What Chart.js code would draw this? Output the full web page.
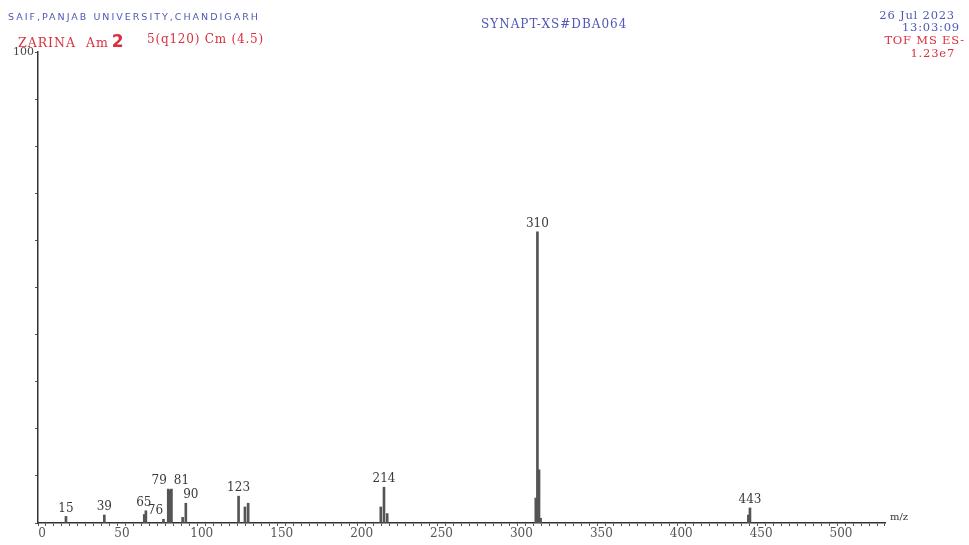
<!DOCTYPE html>
<html>
<head>
<meta charset="utf-8">
<script src="https://cdn.jsdelivr.net/npm/chart.js@4.4.0/dist/chart.umd.min.js"></script>
<style>
    * { margin: 0; padding: 0; }
    body { background: #fff; width: 969px; height: 545px; overflow: hidden; position: relative; }
    #wrap { position: absolute; left: 0; top: 0; width: 969px; height: 545px; }
    .hd { position: absolute; white-space: nowrap; font-family: "DejaVu Serif", serif; font-size: 11.5px; letter-spacing: 0.8px; }
    .blue { color: #4f58b8; }
    .red { color: #d9303f; }
</style>
</head>
<body>
<div id="wrap"><canvas id="ms"></canvas></div>

<div class="hd blue" style="left:8px; top:11px; font-family:'DejaVu Sans',sans-serif; font-size:9.5px; letter-spacing:2px;">SAIF,PANJAB UNIVERSITY,CHANDIGARH</div>
<div class="hd red" style="left:18px; top:31px; font-size:12.5px; letter-spacing:1px;">ZARINA&nbsp; Am<b style="font-family:'DejaVu Sans',sans-serif; font-size:17px; margin-left:3px;">2</b></div>
<div class="hd red" style="left:147px; top:32px; font-size:12px;">5(q120) Cm (4.5)</div>
<div class="hd blue" style="left:481px; top:17px; font-size:12px; letter-spacing:1px;">SYNAPT-XS#DBA064</div>
<div class="hd blue" style="right:14px; top:8px; text-align:right;">26 Jul 2023</div>
<div class="hd blue" style="right:9px; top:20px; text-align:right;">13:03:09</div>
<div class="hd red" style="right:4px; top:33px; text-align:right;">TOF MS ES-</div>
<div class="hd red" style="right:14px; top:46px; text-align:right;">1.23e7</div>

<script>
// peaks (m/z, relative intensity %)
const mz = [15, 39, 64, 65, 76, 79, 80, 81, 88, 90, 123, 127, 129, 212, 214, 216, 309, 310, 311, 312, 442, 443];
const intensity = [1.4, 1.7, 1.8, 2.6, 0.8, 7.2, 7.0, 7.2, 1.2, 4.2, 5.7, 3.4, 4.2, 3.4, 7.6, 2.0, 5.3, 61.8, 11.3, 1.0, 1.7, 3.2];

// peaks that carry a label
const labeledPeaks = [15, 39, 65, 76, 79, 81, 90, 123, 214, 310, 443];

// x axis labelled every 50
const xTickLabels = [0, 50, 100, 150, 200, 250, 300, 350, 400, 450, 500];

const points = mz.map((m, i) => ({ x: m, y: intensity[i] }));

// small nudges so crowded labels do not sit on top of each other
const labelNudge = { 79: -9, 81: 10, 76: -8, 65: -2, 90: 5 };

const peakLabels = {
    id: "peakLabels",
    afterDatasetsDraw(chart) {
        const ctx = chart.ctx;
        const xs = chart.scales.x;
        const ys = chart.scales.y;
        ctx.save();
        ctx.font = "12px 'DejaVu Serif', serif";
        ctx.fillStyle = "#3a3a3a";
        ctx.textAlign = "center";
        ctx.textBaseline = "bottom";
        labeledPeaks.forEach(m => {
            const i = mz.indexOf(m);
            let h = intensity[i];
            if (m === 79 || m === 81) h = Math.max(intensity[mz.indexOf(79)], intensity[mz.indexOf(81)]);
            const px = xs.getPixelForValue(m) + (labelNudge[m] || 0);
            const py = ys.getPixelForValue(h) - 2;
            ctx.fillText(String(m), px, py);
        });

        // m/z caption at the end of the axis
        ctx.font = "10px 'DejaVu Serif', serif";
        ctx.textAlign = "left";
        ctx.textBaseline = "bottom";
        ctx.fillText("m/z", xs.right + 5, ys.bottom - 1);
        ctx.restore();
    }
};

new Chart(document.getElementById("ms"), {
    type: "bar",
    data: {
        datasets: [{
            data: points,
            backgroundColor: "#555",
            borderWidth: 0,
            barThickness: 2
        }]
    },
    options: {
        responsive: true,
        maintainAspectRatio: false,
        animation: false,
        layout: { padding: { top: 52, right: 84, left: 0, bottom: 0 } },
        plugins: {
            legend: { display: false },
            tooltip: { enabled: false }
        },
        scales: {
            x: {
                type: "linear",
                min: 0,
                max: 525,
                afterFit: s => { s.height = 22; },
                ticks: {
                    stepSize: 5,
                    autoSkip: false,
                    maxRotation: 0,
                    padding: 1,
                    color: "#555",
                    font: { family: "'DejaVu Serif', serif", size: 12 },
                    callback: v => xTickLabels.includes(v) ? String(v) : ""
                },
                grid: {
                    display: true,
                    drawOnChartArea: false,
                    drawTicks: true,
                    tickLength: 3,
                    tickColor: "#555"
                },
                border: { display: true, color: "#333", width: 1.5 }
            },
            y: {
                min: 0,
                max: 100,
                afterFit: s => { s.width = 38; },
                ticks: {
                    stepSize: 10,
                    padding: 1,
                    color: "#444",
                    font: { family: "'DejaVu Serif', serif", size: 11 },
                    callback: v => v === 100 ? "100" : ""
                },
                grid: {
                    display: true,
                    drawOnChartArea: false,
                    drawTicks: true,
                    tickLength: 3,
                    tickColor: "#555"
                },
                border: { display: true, color: "#333", width: 1.5 }
            }
        }
    },
    plugins: [peakLabels]
});
</script>
</body>
</html>
